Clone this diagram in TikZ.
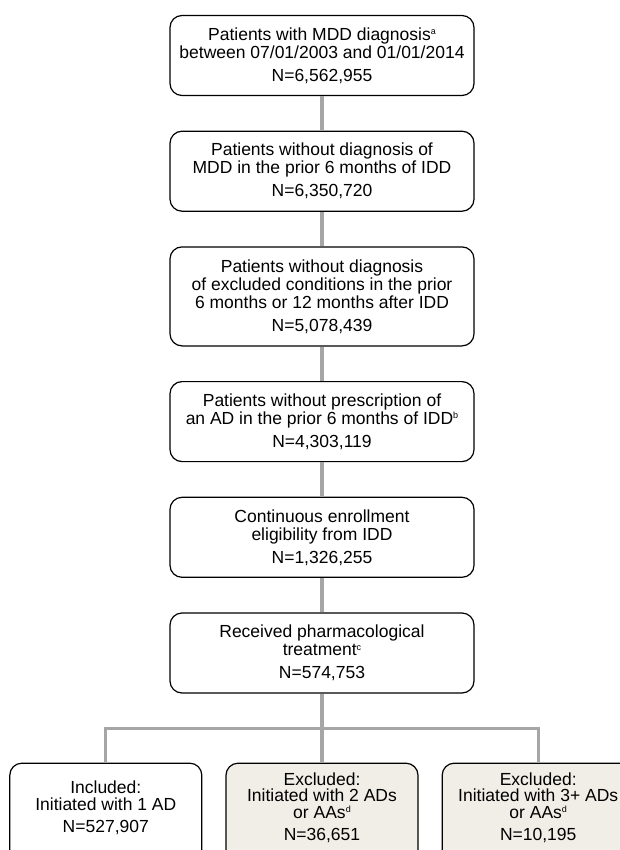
\documentclass[tikz,border=0pt]{standalone}
\usepackage{fontspec}
\setmainfont{Liberation Sans}
\usetikzlibrary{positioning}

\definecolor{beige}{RGB}{240,238,230}
\definecolor{linkgray}{RGB}{166,166,166}
\newcommand{\fnote}[1]{\raisebox{5.5pt}{\fontsize{9}{9}\selectfont #1}}

\begin{document}
\begin{tikzpicture}[x=1pt,y=1pt,node distance=34.5pt]
	\tikzstyle{every node}=[font=\fontsize{17.5}{18}\selectfont]
	\tikzstyle{stage}=[draw,line width=1.2pt,rounded corners=12pt,align=center,minimum width=304pt,minimum height=80pt,fill=white]
	\tikzstyle{outcome}=[stage,font=\fontsize{17.5}{16.5}\selectfont,minimum width=192pt,minimum height=102pt,text depth=15pt]
	\tikzstyle{link}=[draw,line width=3.2pt,linkgray]

	\useasboundingbox (0,0) rectangle (620,-850);

	\node[stage] (mdd) at (322,-55.5) {Patients with MDD diagnosis\fnote{a}\\between 07/01/2003 and 01/01/2014\\[5pt]N=6,562,955};
	\node[stage,below=of mdd] (noprior) {Patients without diagnosis of\\MDD in the prior 6 months of IDD\\[5pt]N=6,350,720};
	\node[stage,below=of noprior,minimum height=99pt] (nocond) {Patients without diagnosis\\of excluded conditions in the prior\\6 months or 12 months after IDD\\[5pt]N=5,078,439};
	\node[stage,below=of nocond] (noad) {Patients without prescription of\\an AD in the prior 6 months of IDD\fnote{b}\\[5pt]N=4,303,119};
	\node[stage,below=of noad] (enroll) {Continuous enrollment\\eligibility from IDD\\[5pt]N=1,326,255};
	\node[stage,below=of enroll] (treat) {Received pharmacological\\treatment\fnote{c}\\[5pt]N=574,753};

	\node[outcome,fill=beige,below=69pt of treat] (two) {Excluded:\\Initiated with 2 ADs\\or AAs\fnote{d}\\[6pt]N=36,651};
	\node[outcome,left=23pt of two] (one) {Included:\\Initiated with 1 AD\\[6pt]N=527,907};
	\node[outcome,fill=beige,right=23pt of two] (three) {Excluded:\\Initiated with 3+ ADs\\or AAs\fnote{d}\\[6pt]N=10,195};
	\coordinate[below=35pt of treat] (split);

	% flow down the stages
	\path[link] (mdd) -- (noprior);
	\path[link] (noprior) -- (nocond);
	\path[link] (nocond) -- (noad);
	\path[link] (noad) -- (enroll);
	\path[link] (enroll) -- (treat);
	\path[link] (treat) -- (two);
	\path[link] (one.north) |- (split) -| (three.north);
\end{tikzpicture}
\end{document}
